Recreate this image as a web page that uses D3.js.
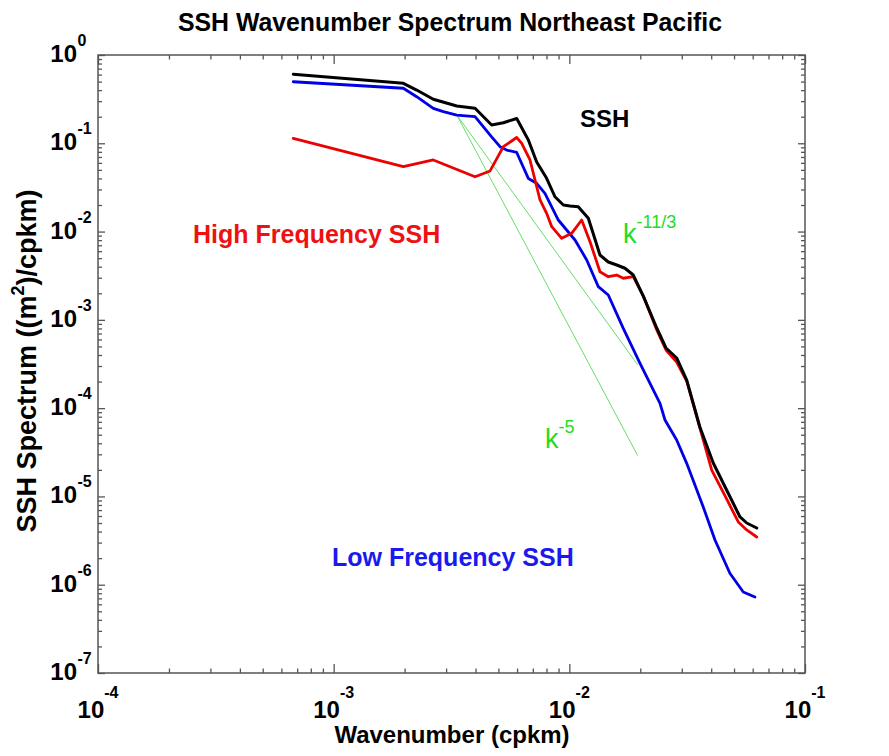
<!DOCTYPE html>
<html><head><meta charset="utf-8">
<script src="https://cdn.jsdelivr.net/npm/d3@7"></script>
<style>
body{margin:0;background:#fff;}
svg{display:block;}
text{font-family:"Liberation Sans",Arial,Helvetica,sans-serif;}
</style>
</head><body>
<svg id="chart" width="889" height="756"></svg>
<script>
// ---- data ----
const sshK = [6.74e-4, 1.975e-3, 2.25e-3, 2.647e-3, 3.33e-3, 3.98e-3, 4.68e-3, 5.25e-3, 5.98e-3, 6.70e-3, 7.27e-3, 8.01e-3, 8.69e-3, 9.43e-3, 1.007e-2, 1.091e-2, 1.204e-2, 1.349e-2, 1.463e-2, 1.589e-2, 1.722e-2, 1.868e-2, 2.06e-2, 2.349e-2, 2.571e-2, 2.854e-2, 3.148e-2, 3.58e-2, 4.08e-2, 4.65e-2, 5.30e-2, 5.66e-2, 6.24e-2];
const sshV = [0.605, 0.478, 0.401, 0.315, 0.2645, 0.249, 0.161, 0.171, 0.191, 0.109, 0.0614, 0.0401, 0.0248, 0.0200, 0.0195, 0.0191, 0.01414, 0.00543, 0.00452, 0.00418, 0.00384, 0.00322, 0.00186, 8.09e-4, 4.80e-4, 3.70e-4, 2.08e-4, 6.12e-5, 2.39e-5, 1.183e-5, 5.85e-6, 5.00e-6, 4.39e-6];

const highK = [6.74e-4, 1.975e-3, 2.647e-3, 3.98e-3, 4.61e-3, 5.25e-3, 5.98e-3, 6.28e-3, 6.81e-3, 7.51e-3, 8.01e-3, 8.42e-3, 9.28e-3, 1.023e-2, 1.128e-2, 1.224e-2, 1.349e-2, 1.463e-2, 1.589e-2, 1.694e-2, 1.868e-2, 2.06e-2, 2.349e-2, 2.571e-2, 2.854e-2, 3.148e-2, 3.58e-2, 4.02e-2, 4.58e-2, 5.21e-2, 5.66e-2, 6.24e-2];
const highV = [0.1138, 0.0543, 0.0647, 0.0418, 0.0486, 0.0915, 0.1163, 0.0998, 0.0647, 0.0228, 0.0161, 0.01136, 0.00839, 0.00956, 0.01352, 0.00768, 0.00351, 0.00308, 0.00322, 0.00296, 0.00308, 0.00186, 7.68e-4, 4.56e-4, 3.33e-4, 2.03e-4, 5.96e-5, 1.99e-5, 1.012e-5, 5.14e-6, 4.17e-6, 3.47e-6];

const lowK = [6.74e-4, 1.975e-3, 2.25e-3, 2.647e-3, 2.92e-3, 3.33e-3, 3.98e-3, 4.68e-3, 5.08e-3, 5.42e-3, 5.98e-3, 6.70e-3, 7.27e-3, 7.88e-3, 8.69e-3, 8.98e-3, 9.74e-3, 1.057e-2, 1.185e-2, 1.327e-2, 1.463e-2, 1.694e-2, 1.995e-2, 2.425e-2, 2.546e-2, 2.854e-2, 3.148e-2, 3.70e-2, 4.15e-2, 4.80e-2, 5.47e-2, 6.13e-2];
const lowV = [0.498, 0.420, 0.337, 0.249, 0.228, 0.209, 0.200, 0.118, 0.0915, 0.0839, 0.0787, 0.040, 0.0352, 0.0271, 0.0161, 0.01352, 0.01042, 0.00803, 0.00477, 0.00238, 0.00191, 8.0e-4, 3.22e-4, 1.135e-4, 7.34e-5, 4.36e-5, 2.37e-5, 7.60e-6, 3.21e-6, 1.348e-6, 8.28e-7, 7.26e-7];

// reference slopes (end points)
const refK = [3.33e-3, 1.95e-2];
const refV113 = [0.209, 3.1e-4];
const refV5 = [0.209, 2.9e-5];

const xTickExps = [-4, -3, -2, -1];
const yTickExps = [0, -1, -2, -3, -4, -5, -6, -7];

const titleText = "SSH Wavenumber Spectrum Northeast Pacific";
const xLabelText = "Wavenumber (cpkm)";

// ---- layout ----
const L = 98, R = 805, T = 55, B = 673;
const svg = d3.select("#chart");
const x = d3.scaleLog().domain([1e-4, 1e-1]).range([L, R]);
const y = d3.scaleLog().domain([1e-7, 1]).range([B, T]);
const axisCol = "#555";

// ticks
const xMajor = xTickExps.map(e => Math.pow(10, e));
const xMinor = x.ticks().filter(v => Math.abs(Math.log10(v) - Math.round(Math.log10(v))) > 1e-6);
const yMajor = yTickExps.map(e => Math.pow(10, e));
const yMinor = y.ticks().filter(v => Math.abs(Math.log10(v) - Math.round(Math.log10(v))) > 1e-6);

function drawAxis(gen, tr, vals, size) {
  const g = svg.append("g").attr("transform", tr)
    .call(gen.tickValues(vals).tickSize(size).tickFormat(""));
  g.select(".domain").remove();
  g.selectAll("line").attr("stroke", axisCol).attr("stroke-width", 1.3);
}
drawAxis(d3.axisBottom(x), `translate(0,${B})`, xMajor, -9);
drawAxis(d3.axisBottom(x), `translate(0,${B})`, xMinor, -4.5);
drawAxis(d3.axisTop(x), `translate(0,${T})`, xMajor, -9);
drawAxis(d3.axisTop(x), `translate(0,${T})`, xMinor, -4.5);
drawAxis(d3.axisLeft(y), `translate(${L},0)`, yMajor, -7);
drawAxis(d3.axisLeft(y), `translate(${L},0)`, yMinor, -4);
drawAxis(d3.axisRight(y), `translate(${R},0)`, yMajor, -7);
drawAxis(d3.axisRight(y), `translate(${R},0)`, yMinor, -4);

svg.append("rect").attr("x", L).attr("y", T).attr("width", R - L).attr("height", B - T)
  .attr("fill", "none").attr("stroke", axisCol).attr("stroke-width", 1.5);

// tick labels
xTickExps.forEach(e => {
  const t = svg.append("text").attr("x", x(Math.pow(10, e))).attr("y", 718)
    .attr("text-anchor", "middle").attr("font-weight", "bold").attr("font-size", 24).attr("fill", "#000");
  t.append("tspan").text("10");
  t.append("tspan").attr("dy", -20).attr("font-size", 16).text(String(e));
});
yTickExps.forEach(e => {
  const yy = y(Math.pow(10, e));
  svg.append("text").attr("x", 77).attr("y", yy + 7).attr("text-anchor", "end")
    .attr("font-weight", "bold").attr("font-size", 24).text("10");
  svg.append("text").attr("x", 77.5).attr("y", yy - 9).attr("text-anchor", "start")
    .attr("font-weight", "bold").attr("font-size", 16).text(String(e));
});

// title & axis labels
svg.append("text").attr("x", 450).attr("y", 31).attr("text-anchor", "middle")
  .attr("font-weight", "bold").attr("font-size", 25)
  .attr("textLength", 544).attr("lengthAdjust", "spacingAndGlyphs").text(titleText);
svg.append("text").attr("x", 452).attr("y", 743).attr("text-anchor", "middle")
  .attr("font-weight", "bold").attr("font-size", 24).text(xLabelText);
const yl = svg.append("text").attr("transform", "translate(36,361) rotate(-90)")
  .attr("text-anchor", "middle").attr("font-weight", "bold").attr("font-size", 27);
yl.append("tspan").text("SSH Spectrum ((m");
yl.append("tspan").attr("dy", -12).attr("font-size", 18).text("2");
yl.append("tspan").attr("dy", 12).text(")/cpkm)");

// lines
const line = d3.line().x(d => x(d[0])).y(d => y(d[1]));
const zip = (ks, vs) => ks.map((k, i) => [k, vs[i]]);
const g = svg.append("g");
g.append("path").datum(zip(refK, refV113)).attr("d", line)
  .attr("fill", "none").attr("stroke", "#66dd66").attr("stroke-width", 1);
g.append("path").datum(zip(refK, refV5)).attr("d", line)
  .attr("fill", "none").attr("stroke", "#66dd66").attr("stroke-width", 1);
[[lowK, lowV, "#0000e6", 2.8], [highK, highV, "#ee0000", 2.8], [sshK, sshV, "#000000", 3]].forEach(([ks, vs, c, w]) => {
  g.append("path").datum(zip(ks, vs)).attr("d", line)
    .attr("fill", "none").attr("stroke", c).attr("stroke-width", w)
    .attr("stroke-linejoin", "round").attr("stroke-linecap", "round");
});

// annotations
svg.append("text").attr("x", 580).attr("y", 127).attr("font-weight", "bold").attr("font-size", 24)
  .attr("fill", "#000").text("SSH");
svg.append("text").attr("x", 193).attr("y", 243).attr("font-weight", "bold").attr("font-size", 25)
  .attr("fill", "#ee1111").text("High Frequency SSH");
svg.append("text").attr("x", 332).attr("y", 566).attr("font-weight", "bold").attr("font-size", 25)
  .attr("fill", "#1a1aee").text("Low Frequency SSH");
const k1 = svg.append("text").attr("x", 623).attr("y", 243).attr("font-size", 27).attr("fill", "#22dd22");
k1.append("tspan").text("k");
k1.append("tspan").attr("dy", -15).attr("font-size", 18).text("-11/3");
const k2 = svg.append("text").attr("x", 545).attr("y", 448).attr("font-size", 27).attr("fill", "#22dd22");
k2.append("tspan").text("k");
k2.append("tspan").attr("dy", -15).attr("font-size", 18).text("-5");
</script>
</body></html>
